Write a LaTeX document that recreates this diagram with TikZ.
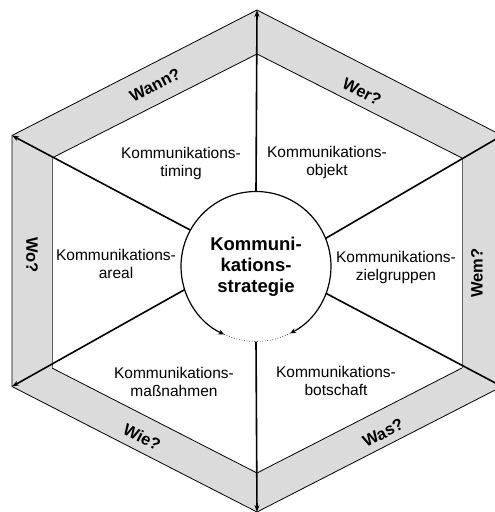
\documentclass[tikz,border=0pt]{standalone}
\usepackage{fontspec}
\setmainfont{Liberation Sans}
\usetikzlibrary{arrows.meta,calc}
\definecolor{band}{gray}{0.86}
\tikzset{
  edge/.style={line width=0.8pt,black},
  inneredge/.style={line width=0.8pt,black!60},
  spoke/.style={line width=1.6pt,-{Stealth[length=7pt,width=5pt]}},
  cyc/.style={line width=1.2pt,-{Stealth[length=6pt,width=5pt]}},
  sect/.style={font=\fontsize{15.5}{18}\selectfont,align=center,inner sep=0pt},
  ask/.style={font=\fontsize{16.5}{19}\selectfont\bfseries,inner sep=0pt},
  core/.style={circle,minimum size=150pt,inner sep=0pt,align=center,font=\fontsize{18.5}{21}\selectfont\bfseries}
}
\begin{document}
\begin{tikzpicture}[x=1pt,y=1pt]
\useasboundingbox (0,0) rectangle (495,512);
% outer hexagon
\coordinate (o1) at (257,502);
\coordinate (o2) at (502,376.5);
\coordinate (o3) at (502,125.5);
\coordinate (o4) at (257,0);
\coordinate (o5) at (12,125.5);
\coordinate (o6) at (12,376.5);
% inner hexagon
\coordinate (i1) at (257,458);
\coordinate (i2) at (462,354);
\coordinate (i3) at (462,144);
\coordinate (i4) at (257,39);
\coordinate (i5) at (52,144);
\coordinate (i6) at (52,354);
\fill[band] (o1)--(o2)--(o3)--(o4)--(o5)--(o6)--cycle;
\fill[white] (i1)--(i2)--(i3)--(i4)--(i5)--(i6)--cycle;
\draw[edge] (o1)--(o2)--(o3)--(o4)--(o5)--(o6)--cycle;
\draw[edge] (i6)--(i1)--(i2);
\draw[edge] (i3)--(i4)--(i5);
\draw[inneredge] (i2)--(i3);
\draw[inneredge] (i5)--(i6);
% core
\coordinate (cc) at (256,245.5);
\node[core] (c) at (cc) {Kommuni-\\kations-\\strategie};
\draw[cyc] ($(cc)+(90:75)$) arc[start angle=90,end angle=245,radius=75];
\draw[cyc] ($(cc)+(90:75)$) arc[start angle=90,end angle=-63,radius=75];
\draw[line width=0.6pt,dotted] ($(cc)+(245:75)$) arc[start angle=245,end angle=297,radius=75];
% spokes
\draw[spoke] (c.90) -- (o1);
\draw[spoke] (c.22) -- (o2);
\draw[spoke] (c.-21) -- (o3);
\draw[spoke] (c.270) -- (o4);
\draw[spoke] (c.198) -- (o5);
\draw[spoke] (c.151.5) -- (o6);
% section texts
\node[sect] (s1) at (181,349) {Kommunikations-\\timing};
\node[sect] (s2) at (327,350) {Kommunikations-\\objekt};
\node[sect] (s3) at (116,248) {Kommunikations-\\areal};
\node[sect] (s4) at (396,245) {Kommunikations-\\zielgruppen};
\node[sect] (s5) at (174,130) {Kommunikations-\\maßnahmen};
\node[sect] (s6) at (336,131) {Kommunikations-\\botschaft};
% band labels
\node[ask,rotate=27.1] (q1) at (155,427) {Wann?};
\node[ask,rotate=-27.1] (q2) at (362,420) {Wer?};
\node[ask,rotate=90] (q3) at (477,239) {Wem?};
\node[ask,rotate=-90] (q4) at (32,257) {Wo?};
\node[ask,rotate=27.1] (q5) at (383,79) {Was?};
\node[ask,rotate=-27.1] (q6) at (142,75) {Wie?};
\end{tikzpicture}
\end{document}
